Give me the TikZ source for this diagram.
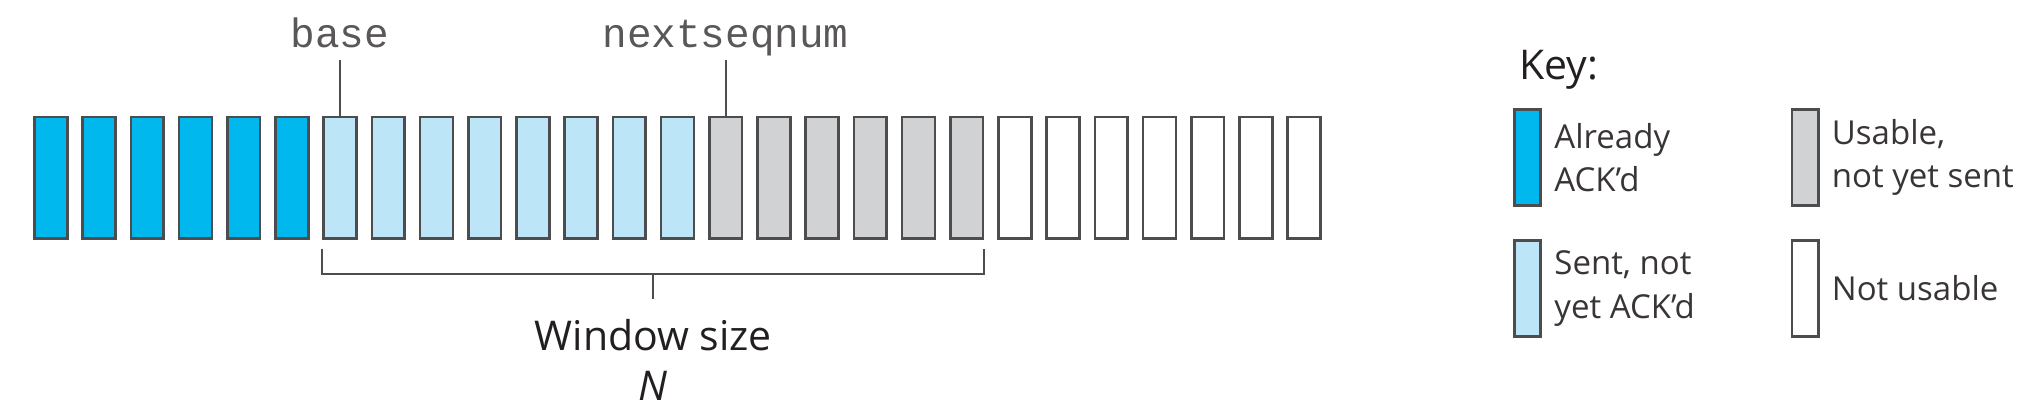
\documentclass[tikz,border=0pt]{standalone}
\usepackage{fontspec}
\setmainfont{Open Sans}
\setmonofont{Liberation Mono}
\usetikzlibrary{positioning,calc}
\definecolor{ackblue}{HTML}{00B7EE}
\definecolor{sentblue}{HTML}{BDE5F8}
\definecolor{usegray}{HTML}{D1D2D4}
\definecolor{edge}{HTML}{4D4D4F}
\definecolor{ink}{HTML}{231F20}
\tikzset{
	pkt/.style={draw=edge,line width=1.3pt,inner sep=0pt,minimum width=16.4pt,minimum height=60.8pt},
	keybox/.style={pkt,minimum width=13.2pt,minimum height=48.2pt},
	lead/.style={draw=edge,line width=0.9pt},
	ptr/.style={font=\ttfamily\fontsize{20.5}{24}\selectfont,text=ink!75,text depth=0pt,inner sep=6pt},
	captxt/.style={font=\fontsize{20.5}{25}\selectfont,text=ink},
	keytxt/.style={font=\fontsize{16.5}{21.7}\selectfont,text=ink!90,align=left,inner sep=0pt},
}
\begin{document}
\begin{tikzpicture}[x=0.5pt,y=-0.5pt]
	\def\pitch{48.2} \def\xo{50.8} \def\ym{178}
	\useasboundingbox (0,0) rectangle (2036,410);
	% sequence number space
	\foreach \i in {1,...,6} \node[pkt,fill=ackblue] (b\i) at ({\xo+\pitch*(\i-1)},\ym) {};
	\foreach \i in {7,...,14} \node[pkt,fill=sentblue] (b\i) at ({\xo+\pitch*(\i-1)},\ym) {};
	\foreach \i in {15,...,20} \node[pkt,fill=usegray] (b\i) at ({\xo+\pitch*(\i-1)},\ym) {};
	\foreach \i in {21,...,27} \node[pkt,fill=white] (b\i) at ({\xo+\pitch*(\i-1)},\ym) {};
	% pointers
	\node[ptr,anchor=south] (base) at ($(b7.north)+(0,-56)$) {base};
	\node[ptr,anchor=south] (next) at ($(b15.north)+(0,-56)$) {nextseqnum};
	\draw[lead] (base) -- (b7);
	\draw[lead] (next) -- (b15);
	% window
	\coordinate (wl) at ([yshift=-17pt]b7.south west);
	\coordinate (wr) at ([yshift=-17pt]b20.south east);
	\coordinate (wm) at ($(wl)!0.5!(wr)$);
	\draw[lead] ([yshift=-4.5pt]b7.south west) -- (wl) -- (wr) -- ([yshift=-4.5pt]b20.south east);
	\node[captxt,align=center,anchor=north,inner sep=10pt] (win) at ($(wm)+(0,25)$) {Window size\\\textit{N}};
	\draw[lead] (wm) -- (win);
	% key
	\node[captxt,anchor=base west,inner sep=0pt] (key) at (1519,80) {Key:};
	\node[keybox,fill=ackblue] (k1) at (1527.5,157.5) {};
	\node[keybox,fill=usegray] (k2) at (1805,157.5) {};
	\node[keybox,fill=sentblue] (k3) at (1527.5,288.5) {};
	\node[keybox,fill=white] (k4) at (1805,288.5) {};
	\node[keytxt,right=6pt of k1] (t1) {Already\\ACK'd};
	\node[keytxt,right=6pt of k2] (t2) {Usable,\\not yet sent};
	\node[keytxt,right=6pt of k3] (t3) {Sent, not\\yet ACK'd};
	\node[keytxt,right=6pt of k4] (t4) {Not usable};
\end{tikzpicture}
\end{document}
